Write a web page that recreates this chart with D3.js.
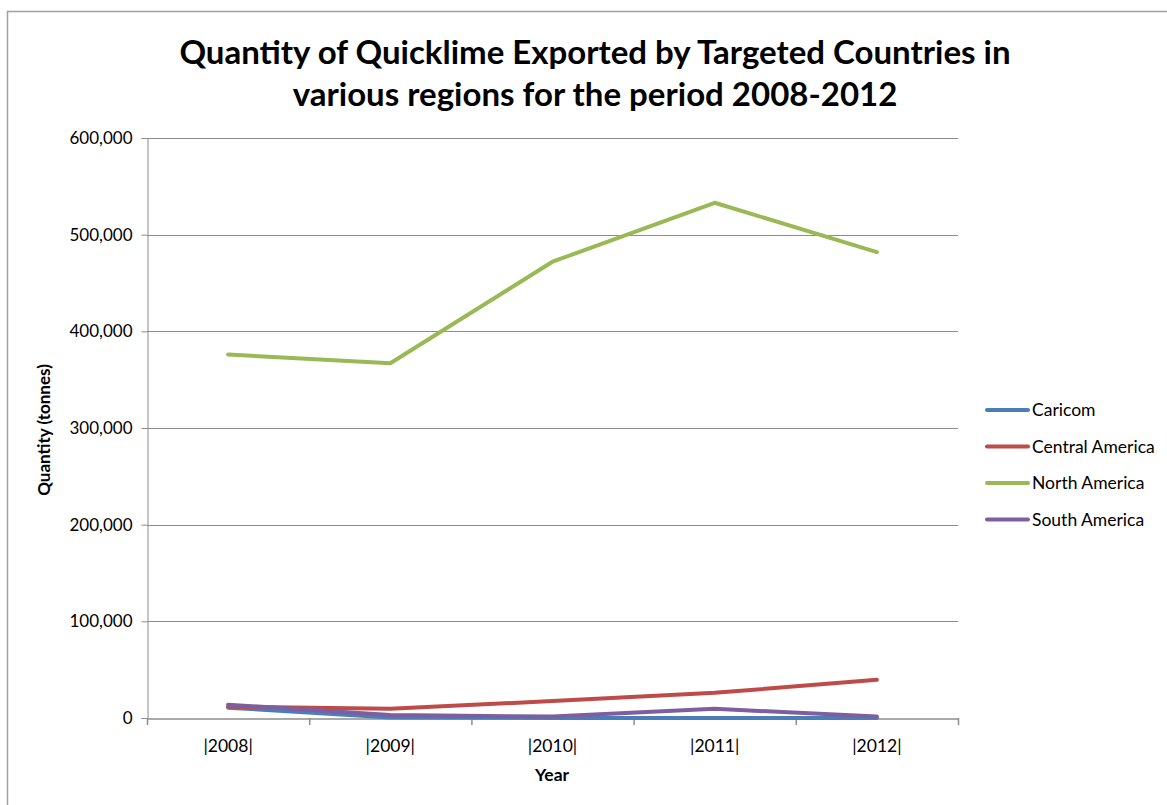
<!DOCTYPE html>
<html><head><meta charset="utf-8">
<script src="https://cdn.jsdelivr.net/npm/d3@7"></script>
<style>
html,body{margin:0;padding:0;background:#fff;}
svg{display:block;}
</style></head>
<body>
<svg id="chart" width="1167" height="805"></svg>
<script>
const years = ["|2008|", "|2009|", "|2010|", "|2011|", "|2012|"];
const seriesNames = ["Caricom", "Central America", "North America", "South America"];
const caricom = [10700, 500, 0, 0, 0];
const centralAmerica = [11700, 9500, 17500, 26000, 39500];
const northAmerica = [376000, 367000, 472000, 533000, 482000];
const southAmerica = [13800, 3000, 1500, 9500, 1500];
const yTicks = [0, 100000, 200000, 300000, 400000, 500000, 600000];
const colors = ["#4a7ebb", "#be4b48", "#98b954", "#7d5fa0"];
const titleLines = ["Quantity of Quicklime Exported by Targeted Countries in", "various regions for the period 2008-2012"];

const allSeries = [caricom, centralAmerica, northAmerica, southAmerica];
const svg = d3.select("#chart");
const font = "Lato, 'Open Sans', sans-serif";

// outer border
svg.append("rect").attr("x", 7.5).attr("y", 11.5).attr("width", 1200).attr("height", 900)
  .attr("fill", "none").attr("stroke", "#a0a0a0").attr("stroke-width", 1.5);

const pLeft = 147, pRight = 958, pTop = 138, pBottom = 718;
const x = d3.scaleBand().domain(years).range([pLeft, pRight]);
const y = d3.scaleLinear().domain([0, 600000]).range([pBottom, pTop]);

// gridlines
svg.append("g").selectAll("line").data(yTicks.filter(d => d > 0)).join("line")
  .attr("x1", pLeft).attr("x2", pRight)
  .attr("y1", d => Math.round(y(d)) + 0.5).attr("y2", d => Math.round(y(d)) + 0.5)
  .attr("stroke", "#8c8c8c").attr("stroke-width", 1);

// y axis
const yAxis = svg.append("g").attr("transform", `translate(${pLeft + 0.5},0)`)
  .call(d3.axisLeft(y).tickValues(yTicks).tickSize(6).tickPadding(9).tickFormat(d3.format(",")));
yAxis.select(".domain").attr("stroke", "#8c8c8c");
yAxis.selectAll(".tick line").attr("stroke", "#8c8c8c");
yAxis.selectAll("text").attr("font-family", font).attr("font-size", 17).attr("fill", "#000");

// x axis
const xAxis = svg.append("g").attr("transform", `translate(0,${pBottom + 0.5})`)
  .call(d3.axisBottom(x).tickSize(0).tickPadding(21));
xAxis.select(".domain").attr("stroke", "#8c8c8c").attr("stroke-width", 1.5);
xAxis.selectAll("text").attr("font-family", font).attr("font-size", 17.5).attr("fill", "#000");
// x tick marks at band boundaries
const bounds = years.map(d => x(d)).concat([pRight]);
svg.append("g").selectAll("line").data(bounds).join("line")
  .attr("x1", d => d + 0.5).attr("x2", d => d + 0.5)
  .attr("y1", pBottom).attr("y2", pBottom + 7)
  .attr("stroke", "#8c8c8c").attr("stroke-width", 1.5);

// lines
const line = d3.line().x((d, i) => x(years[i]) + x.bandwidth() / 2).y(d => y(d));
allSeries.forEach((s, i) => {
  svg.append("path").datum(s).attr("d", line)
    .attr("fill", "none").attr("stroke", colors[i]).attr("stroke-width", 4)
    .attr("stroke-linejoin", "round").attr("stroke-linecap", "round");
});

// title
svg.append("text").attr("x", 595).attr("text-anchor", "middle")
  .attr("font-family", font).attr("font-weight", "bold").attr("font-size", 33)
  .selectAll("tspan").data(titleLines).join("tspan")
  .attr("x", 595).attr("y", (d, i) => 64 + i * 42).text(d => d);

// axis titles
svg.append("text").attr("transform", "translate(50,430) rotate(-90)")
  .attr("text-anchor", "middle").attr("font-family", font).attr("font-weight", "bold")
  .attr("font-size", 17).text("Quantity (tonnes)");
svg.append("text").attr("x", 552).attr("y", 781).attr("text-anchor", "middle")
  .attr("font-family", font).attr("font-weight", "bold").attr("font-size", 17.5).text("Year");

// legend
const lg = svg.append("g");
seriesNames.forEach((n, i) => {
  const yy = 410 + i * 36.5;
  lg.append("line").attr("x1", 987).attr("x2", 1028).attr("y1", yy).attr("y2", yy)
    .attr("stroke", colors[i]).attr("stroke-width", 4).attr("stroke-linecap", "round");
  lg.append("text").attr("x", 1032).attr("y", yy + 6).attr("font-family", font)
    .attr("font-size", 17.5).text(n);
});
</script>
</body></html>
